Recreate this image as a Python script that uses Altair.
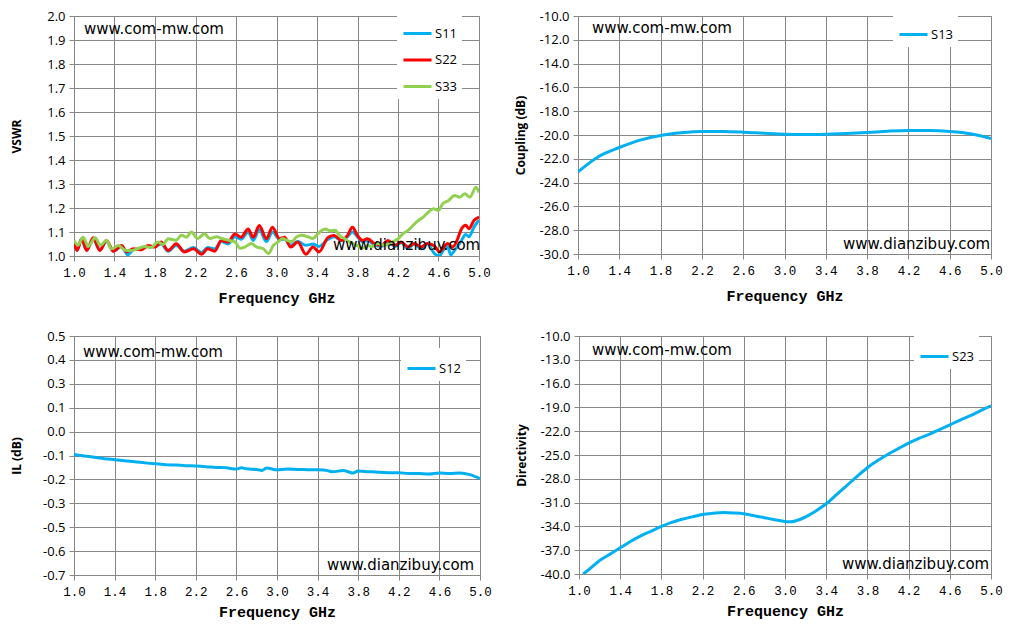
import altair as alt
import pandas as pd

# x axis ticks (GHz)
freq_ticks = [1.0, 1.4, 1.8, 2.2, 2.6, 3.0, 3.4, 3.8, 4.2, 4.6, 5.0]

# VSWR traces, read at peaks / troughs
s11_freq = [1.00, 1.03, 1.075, 1.125, 1.19, 1.255, 1.32, 1.39, 1.47, 1.53, 1.585, 1.665, 1.73, 1.80,
            1.86, 1.93, 2.01, 2.09, 2.18, 2.26, 2.32, 2.39, 2.455, 2.52, 2.59, 2.65, 2.72, 2.77, 2.83,
            2.90, 2.96, 3.03, 3.08, 3.14, 3.21, 3.29, 3.36, 3.42, 3.51, 3.57, 3.64, 3.70, 3.75, 3.80,
            3.85, 3.90, 3.97, 4.04, 4.10, 4.17, 4.23, 4.30, 4.36, 4.43, 4.49, 4.56, 4.61, 4.64, 4.69,
            4.72, 4.77, 4.82, 4.87, 4.90, 4.95, 5.00]
s11_vswr = [1.055, 1.025, 1.07, 1.025, 1.07, 1.025, 1.06, 1.02, 1.04, 1.005, 1.025, 1.03, 1.04, 1.04,
            1.05, 1.02, 1.045, 1.02, 1.035, 1.015, 1.035, 1.03, 1.06, 1.05, 1.08, 1.07, 1.10, 1.065, 1.11,
            1.06, 1.10, 1.07, 1.07, 1.045, 1.06, 1.045, 1.05, 1.04, 1.07, 1.08, 1.065, 1.08, 1.10, 1.08,
            1.06, 1.065, 1.045, 1.04, 1.06, 1.04, 1.055, 1.03, 1.05, 1.03, 1.05, 1.01, 1.0, 1.02, 1.04,
            1.005, 1.03, 1.06, 1.09, 1.08, 1.12, 1.15]

s22_freq = [1.00, 1.03, 1.075, 1.125, 1.19, 1.255, 1.32, 1.39, 1.47, 1.52, 1.585, 1.665, 1.73, 1.80,
            1.86, 1.93, 2.01, 2.09, 2.18, 2.26, 2.32, 2.39, 2.455, 2.52, 2.59, 2.65, 2.72, 2.77, 2.83,
            2.90, 2.96, 3.03, 3.08, 3.14, 3.21, 3.29, 3.36, 3.42, 3.51, 3.57, 3.64, 3.70, 3.75, 3.80,
            3.85, 3.90, 3.97, 4.04, 4.10, 4.17, 4.23, 4.30, 4.36, 4.43, 4.49, 4.56, 4.61, 4.64, 4.69,
            4.74, 4.79, 4.82, 4.87, 4.90, 4.95, 5.00]
s22_vswr = [1.058, 1.023, 1.072, 1.023, 1.076, 1.023, 1.065, 1.020, 1.044, 1.017, 1.030, 1.026, 1.044,
            1.037, 1.058, 1.023, 1.051, 1.017, 1.030, 1.007, 1.030, 1.020, 1.065, 1.058, 1.092, 1.078,
            1.113, 1.078, 1.127, 1.072, 1.120, 1.072, 1.078, 1.037, 1.058, 1.007, 1.037, 1.017, 1.078,
            1.085, 1.065, 1.085, 1.120, 1.085, 1.065, 1.072, 1.051, 1.045, 1.065, 1.045, 1.058, 1.038,
            1.052, 1.038, 1.052, 1.042, 1.017, 1.030, 1.052, 1.038, 1.072, 1.107, 1.128, 1.114, 1.148,
            1.162]

s33_freq = [1.00, 1.04, 1.09, 1.14, 1.21, 1.26, 1.32, 1.37, 1.44, 1.50, 1.55, 1.63, 1.70, 1.76, 1.83,
            1.88, 1.93, 2.01, 2.06, 2.11, 2.16, 2.22, 2.29, 2.34, 2.41, 2.46, 2.52, 2.59, 2.64, 2.69,
            2.75, 2.80, 2.87, 2.92, 2.97, 3.02, 3.06, 3.10, 3.15, 3.20, 3.25, 3.31, 3.36, 3.41, 3.48,
            3.53, 3.58, 3.62, 3.67, 3.72, 3.79, 3.85, 3.90, 3.94, 4.00, 4.07, 4.14, 4.20, 4.25, 4.30,
            4.35, 4.40, 4.45, 4.50, 4.55, 4.60, 4.64, 4.70, 4.76, 4.81, 4.86, 4.91, 4.97, 5.00]
s33_vswr = [1.065, 1.045, 1.078, 1.040, 1.076, 1.044, 1.066, 1.030, 1.044, 1.025, 1.022, 1.030, 1.040,
            1.035, 1.058, 1.048, 1.072, 1.066, 1.086, 1.078, 1.100, 1.073, 1.093, 1.073, 1.080, 1.073,
            1.066, 1.059, 1.032, 1.038, 1.052, 1.038, 1.030, 1.010, 1.045, 1.060, 1.073, 1.066, 1.060,
            1.080, 1.086, 1.080, 1.073, 1.093, 1.112, 1.105, 1.107, 1.086, 1.073, 1.059, 1.045, 1.032,
            1.045, 1.038, 1.052, 1.045, 1.058, 1.072, 1.093, 1.107, 1.128, 1.148, 1.162, 1.183, 1.197,
            1.190, 1.217, 1.231, 1.252, 1.245, 1.259, 1.245, 1.286, 1.265]

# coupling S13 (dB)
s13_freq = [1.0, 1.2, 1.4, 1.6, 1.8, 2.0, 2.2, 2.4, 2.6, 2.8, 3.0, 3.2, 3.4, 3.6, 3.8, 4.0, 4.2, 4.4,
            4.6, 4.8, 5.0]
s13_db = [-23.1, -21.8, -21.05, -20.43, -20.04, -19.82, -19.71, -19.71, -19.76, -19.85, -19.93, -19.96,
          -19.93, -19.87, -19.79, -19.68, -19.62, -19.62, -19.71, -19.90, -20.3]

# insertion loss S12 (dB)
s12_freq = [1.0, 1.1, 1.2, 1.3, 1.4, 1.5, 1.6, 1.7, 1.8, 1.9, 2.0, 2.1, 2.2, 2.3, 2.4, 2.5, 2.6, 2.65,
            2.7, 2.8, 2.85, 2.9, 3.0, 3.1, 3.2, 3.3, 3.4, 3.5, 3.55, 3.65, 3.75, 3.8, 3.9, 4.0, 4.1,
            4.2, 4.3, 4.4, 4.5, 4.6, 4.7, 4.8, 4.9, 5.0]
s12_db = [-0.095, -0.102, -0.109, -0.116, -0.121, -0.126, -0.131, -0.137, -0.142, -0.146, -0.148,
          -0.151, -0.153, -0.156, -0.160, -0.162, -0.168, -0.162, -0.167, -0.170, -0.175, -0.163,
          -0.172, -0.168, -0.170, -0.171, -0.172, -0.176, -0.182, -0.175, -0.188, -0.178, -0.181,
          -0.184, -0.186, -0.187, -0.190, -0.191, -0.193, -0.188, -0.190, -0.188, -0.196, -0.216]

# directivity S23 (dB)
s23_freq = [1.04, 1.1, 1.2, 1.3, 1.4, 1.5, 1.6, 1.7, 1.8, 1.9, 2.0, 2.1, 2.2, 2.3, 2.4, 2.5, 2.6, 2.7,
            2.8, 2.9, 3.0, 3.05, 3.1, 3.15, 3.2, 3.3, 3.4, 3.5, 3.6, 3.7, 3.8, 3.9, 4.0, 4.1, 4.2, 4.3,
            4.4, 4.5, 4.6, 4.7, 4.8, 4.9, 5.0]
s23_db = [-40.0, -39.4, -38.3, -37.5, -36.7, -35.9, -35.2, -34.6, -34.0, -33.5, -33.1, -32.8, -32.5,
          -32.35, -32.25, -32.3, -32.4, -32.65, -32.9, -33.15, -33.38, -33.42, -33.32, -33.1, -32.8,
          -32.05, -31.15, -30.0, -28.85, -27.7, -26.6, -25.7, -24.9, -24.2, -23.5, -22.9, -22.4, -21.8,
          -21.2, -20.6, -20.05, -19.4, -18.8]

# y axis ticks (Excel major units)
vswr_ticks = [2.0, 1.9, 1.8, 1.7, 1.6, 1.5, 1.4, 1.3, 1.2, 1.1, 1.0]
coupling_ticks = [-10, -12, -14, -16, -18, -20, -22, -24, -26, -28, -30]
il_ticks = [0.5, 0.38, 0.26, 0.14, 0.02, -0.10, -0.22, -0.34, -0.46, -0.58, -0.70]
dir_ticks = [-10, -13, -16, -19, -22, -25, -28, -31, -34, -37, -40]

SITE_A = "www.com-mw.com"
SITE_B = "www.dianzibuy.com"
BLUE = "#00B0F0"

LABEL_EXPR = "replace(format(datum.value, '.1f'), '\u2212', '-')"


def frame(names, freqs, values):
    parts = []
    for n, f, v in zip(names, freqs, values):
        parts.append(pd.DataFrame({"f": f, "v": v, "s": n}))
    return pd.concat(parts, ignore_index=True)


def watermark(text, x, y):
    return (
        alt.Chart(pd.DataFrame({"t": [text]}))
        .mark_text(align="left", baseline="middle", font="DejaVu Sans", fontSize=15, color="black")
        .encode(text="t:N", x=alt.value(x), y=alt.value(y))
    )


def panel(df, names, colors, ytitle, ydomain, yticks, w, h, leg_x, leg_y, marks_a, marks_b, xpad):
    lines = (
        alt.Chart(df)
        .mark_line(strokeWidth=3, interpolate="monotone", clip=True)
        .encode(
            x=alt.X("f:Q", title="Frequency GHz",
                    scale=alt.Scale(domain=[1.0, 5.0], nice=False, zero=False),
                    axis=alt.Axis(values=freq_ticks, format=".1f", titlePadding=xpad)),
            y=alt.Y("v:Q", title=ytitle,
                    scale=alt.Scale(domain=ydomain, nice=False, zero=False),
                    axis=alt.Axis(values=yticks, labelExpr=LABEL_EXPR)),
            color=alt.Color("s:N", scale=alt.Scale(domain=names, range=colors),
                            legend=alt.Legend(orient="none", legendX=leg_x, legendY=leg_y, title=None,
                                              symbolType="stroke", symbolStrokeWidth=3, symbolSize=784,
                                              labelFont="Open Sans", labelFontSize=13, labelOffset=2,
                                              fillColor="white", padding=5, rowPadding=3.5)),
        )
    )
    return alt.layer(
        lines,
        watermark(SITE_A, marks_a[0], marks_a[1]),
        watermark(SITE_B, marks_b[0], marks_b[1]),
    ).properties(width=w, height=h)


vswr_df = frame(["S11", "S22", "S33"], [s11_freq, s22_freq, s33_freq], [s11_vswr, s22_vswr, s33_vswr])
p1 = panel(vswr_df, ["S11", "S22", "S33"], [BLUE, "#FF0000", "#92D050"], "VSWR", [1.0, 2.0],
           vswr_ticks, 405, 240, 323, -3, (10, 13), (259, 229), 12)
p2 = panel(frame(["S13"], [s13_freq], [s13_db]), ["S13"], [BLUE], "Coupling (dB)", [-30, -10],
           coupling_ticks, 413, 238, 315, -2, (14, 12), (265, 228), 12)
p3 = panel(frame(["S12"], [s12_freq], [s12_db]), ["S12"], [BLUE], "IL (dB)", [-0.7, 0.5],
           il_ticks, 406, 239, 327, 12, (9, 16), (253, 229), 7)
p4 = panel(frame(["S23"], [s23_freq], [s23_db]), ["S23"], [BLUE], "Directivity", [-40, -10],
           dir_ticks, 412, 238, 335, 0, (13, 14), (263, 228), 7)

row1 = alt.hconcat(p1, p2, spacing=22).resolve_scale(color="independent").resolve_legend(color="independent")
row2 = alt.hconcat(p3, p4, spacing=22).resolve_scale(color="independent").resolve_legend(color="independent")

chart = (
    alt.vconcat(row1, row2, spacing=23)
    .resolve_scale(color="independent")
    .resolve_legend(color="independent")
    .properties(padding={"left": 1, "top": 1, "right": 0, "bottom": 3})
    .configure_view(stroke="#878787", strokeWidth=1)
    .configure_axis(gridColor="#878787", gridOpacity=1, domainColor="#878787", tickColor="#878787",
                    tickSize=5, labelColor="black", titleColor="black", labelFlush=False)
    .configure_axisX(labelFont="Liberation Mono", labelFontSize=12.5, labelPadding=5,
                     titleFont="Liberation Mono", titleFontSize=15, titleFontWeight="bold")
    .configure_axisY(labelFont="Open Sans", labelFontSize=13, labelPadding=4, titleFont="Open Sans",
                     titleFontSize=12, titleFontWeight="bold", titleX=-58, titleBaseline="middle")
)

chart.save("out.html", embed_options={"renderer": "svg", "actions": False})
